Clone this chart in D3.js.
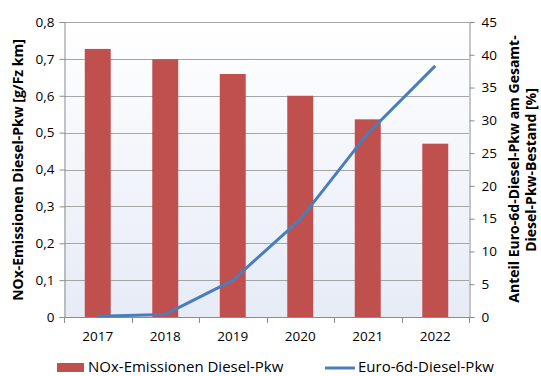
<!DOCTYPE html>
<html>
<head>
<meta charset="utf-8">
<script src="https://cdn.jsdelivr.net/npm/d3@7"></script>
<style>
  body { margin: 0; background: #fff; }
  svg text { font-family: "Open Sans", "Noto Sans", sans-serif; fill: #000; }
</style>
</head>
<body>
<svg id="chart" width="541" height="376"></svg>
<script>
// Jahre, NOx-Emissionen (g/Fz km) und Anteil Euro-6d (%)
const years = ["2017", "2018", "2019", "2020", "2021", "2022"];
const noxValues = [0.727, 0.699, 0.659, 0.600, 0.536, 0.470];
const euro6dShare = [0.1, 0.4, 5.6, 14.9, 28.0, 38.3];
const leftTicks = [0, 0.1, 0.2, 0.3, 0.4, 0.5, 0.6, 0.7, 0.8];
const rightTicks = [0, 5, 10, 15, 20, 25, 30, 35, 40, 45];
const seriesNames = ["NOx-Emissionen Diesel-Pkw", "Euro-6d-Diesel-Pkw"];

const svg = d3.select("#chart");
const plot = { left: 64, right: 469, top: 22, bottom: 317 };

const x = d3.scaleBand().domain(years).range([plot.left, plot.right]).paddingInner(0.6153).paddingOuter(0.3077);
const xc = d3.scaleBand().domain(years).range([plot.left, plot.right]);
const yL = d3.scaleLinear().domain([0, 0.8]).range([plot.bottom, plot.top]);
const yR = d3.scaleLinear().domain([0, 45]).range([plot.bottom, plot.top]);

// Hintergrundverlauf der Zeichenfläche
const defs = svg.append("defs");
const grad = defs.append("linearGradient").attr("id", "bg").attr("x1", 0).attr("y1", 0).attr("x2", 0).attr("y2", 1);
grad.append("stop").attr("offset", "0%").attr("stop-color", "#ffffff");
grad.append("stop").attr("offset", "100%").attr("stop-color", "#e6ebf6");
svg.append("rect")
  .attr("x", plot.left).attr("y", plot.top)
  .attr("width", plot.right - plot.left).attr("height", plot.bottom - plot.top)
  .attr("fill", "url(#bg)");

// Gitterlinien
svg.append("g").selectAll("line").data(leftTicks.slice(1)).join("line")
  .attr("x1", plot.left).attr("x2", plot.right)
  .attr("y1", d => Math.round(yL(d)) + 0.5).attr("y2", d => Math.round(yL(d)) + 0.5)
  .attr("stroke", "#a6a6a6").attr("stroke-width", 1);

// Balken
svg.append("g").selectAll("rect").data(years).join("rect")
  .attr("x", d => x(d)).attr("width", x.bandwidth())
  .attr("y", (d, i) => yL(noxValues[i]))
  .attr("height", (d, i) => yL(0) - yL(noxValues[i]))
  .attr("fill", "#c0504d");

// Achsen
const axisColor = "#8c8c8c";
const fmt = d => d === 0 ? "0" : d3.format(".1f")(d).replace(".", ",");

const gL = svg.append("g").attr("transform", `translate(${plot.left + 0.5},0)`)
  .call(d3.axisLeft(yL).tickValues(leftTicks).tickFormat(fmt).tickSize(5).tickPadding(5));
const gR = svg.append("g").attr("transform", `translate(${plot.right + 0.5},0)`)
  .call(d3.axisRight(yR).tickValues(rightTicks).tickSize(5).tickPadding(7));
const gX = svg.append("g").attr("transform", `translate(0,${plot.bottom + 0.5})`)
  .call(d3.axisBottom(xc).tickSize(0).tickPadding(14));

[gL, gR, gX].forEach(g => {
  g.select(".domain").attr("stroke", axisColor);
  g.selectAll(".tick line").attr("stroke", axisColor);
  g.selectAll(".tick text").attr("font-size", 13.5).attr("fill", "#000")
    .style("font-family", "'Open Sans', sans-serif");
});
gX.select(".domain").attr("d", `M${plot.left},0H${plot.right}`);

// Teilstriche zwischen den Kategorien
svg.append("g").selectAll("line").data(d3.range(years.length + 1)).join("line")
  .attr("x1", i => Math.round(plot.left + i * xc.step()) + 0.5)
  .attr("x2", i => Math.round(plot.left + i * xc.step()) + 0.5)
  .attr("y1", plot.bottom).attr("y2", plot.bottom + 6)
  .attr("stroke", axisColor);

// Linie Euro-6d-Anteil
const line = d3.line()
  .x((d, i) => xc(years[i]) + xc.bandwidth() / 2)
  .y(d => yR(d));
svg.append("path").datum(euro6dShare)
  .attr("d", line)
  .attr("fill", "none").attr("stroke", "#4a7ebb").attr("stroke-width", 3)
  .attr("stroke-linejoin", "round");

// Achsentitel
svg.append("text")
  .attr("transform", "translate(23,170) rotate(-90)")
  .attr("text-anchor", "middle").attr("font-weight", "bold").attr("font-size", 14)
  .text("NOx-Emissionen Diesel-Pkw [g/Fz km]");
svg.append("text")
  .attr("transform", "translate(519,169) rotate(-90)")
  .attr("text-anchor", "middle").attr("font-weight", "bold").attr("font-size", 14)
  .text("Anteil Euro-6d-Diesel-Pkw am Gesamt-");
svg.append("text")
  .attr("transform", "translate(536,170) rotate(-90)")
  .attr("text-anchor", "middle").attr("font-weight", "bold").attr("font-size", 14)
  .text("Diesel-Pkw-Bestand [%]");

// Legende
const leg = svg.append("g");
leg.append("rect").attr("x", 57).attr("y", 363).attr("width", 27).attr("height", 9).attr("fill", "#c0504d");
leg.append("text").attr("x", 88).attr("y", 372).attr("font-size", 15).text(seriesNames[0]);
leg.append("line").attr("x1", 325).attr("x2", 355).attr("y1", 368).attr("y2", 368)
  .attr("stroke", "#4a7ebb").attr("stroke-width", 3);
leg.append("text").attr("x", 358).attr("y", 372).attr("font-size", 15).text(seriesNames[1]);
</script>
</body>
</html>
